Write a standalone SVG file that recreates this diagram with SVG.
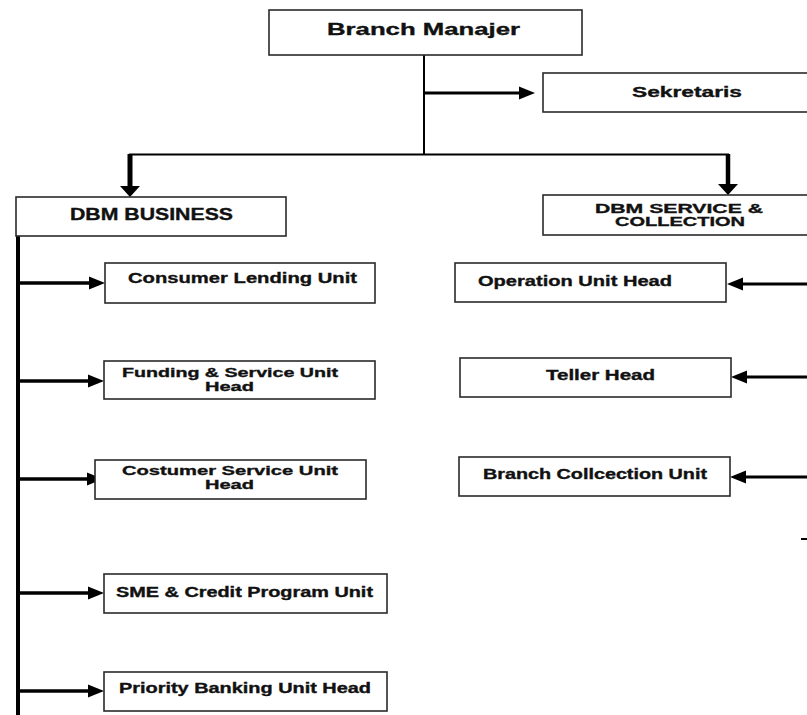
<svg xmlns="http://www.w3.org/2000/svg" width="807" height="715" viewBox="0 0 807 715">
<style>
.box{fill:#fff;stroke:#2a2a2a;stroke-width:1.6}
.t{font-family:"Liberation Sans",Arial,sans-serif;font-weight:bold;fill:#111;stroke:#111;stroke-width:0.35}
.c{stroke:#000;fill:none}
</style>
<defs>
<marker id="ah" markerUnits="userSpaceOnUse" markerWidth="16" markerHeight="13" refX="6" refY="6.5" orient="auto" overflow="visible"><path d="M0,0 L16,6.5 L0,13 z" fill="#000"/></marker>
<marker id="ad" markerUnits="userSpaceOnUse" markerWidth="11" markerHeight="20" refX="4" refY="10" orient="auto" overflow="visible"><path d="M0,0 L11,10 L0,20 z" fill="#000"/></marker>
</defs>
<rect width="807" height="715" fill="#fff"/>
<g id="connectors">
<line class="c" x1="424" y1="55" x2="424" y2="155" stroke-width="2"/>
<line class="c" x1="129" y1="154.5" x2="729" y2="154.5" stroke-width="2"/>
<line class="c" x1="424" y1="93" x2="525" y2="93" stroke-width="3" marker-end="url(#ah)"/>
<line class="c" x1="130" y1="154" x2="130" y2="190" stroke-width="5" marker-end="url(#ad)"/>
<line class="c" x1="728" y1="154" x2="728" y2="188" stroke-width="4.5" marker-end="url(#ad)"/>
<line class="c" x1="18" y1="236" x2="18" y2="715" stroke-width="4"/>
<line class="c" x1="18" y1="283" x2="95" y2="283" stroke-width="3.5" marker-end="url(#ah)"/>
<line class="c" x1="18" y1="381" x2="94" y2="381" stroke-width="3.5" marker-end="url(#ah)"/>
<line class="c" x1="18" y1="479" x2="93" y2="479" stroke-width="3.5" marker-end="url(#ah)"/>
<line class="c" x1="18" y1="593" x2="94" y2="593" stroke-width="3.5" marker-end="url(#ah)"/>
<line class="c" x1="18" y1="691" x2="94" y2="691" stroke-width="3.5" marker-end="url(#ah)"/>
<line class="c" x1="807" y1="284" x2="737" y2="284" stroke-width="3" marker-end="url(#ah)"/>
<line class="c" x1="807" y1="377" x2="741" y2="377" stroke-width="3" marker-end="url(#ah)"/>
<line class="c" x1="807" y1="477" x2="740" y2="477" stroke-width="3" marker-end="url(#ah)"/>
<line class="c" x1="801" y1="539" x2="807" y2="539" stroke-width="2"/>
</g>
<g id="branch-manajer"><rect class="box" x="269" y="10" width="313" height="45"/><text class="t" x="327" y="35" font-size="17" textLength="193" lengthAdjust="spacingAndGlyphs">Branch Manajer</text></g>
<g id="sekretaris"><rect class="box" x="543" y="73" width="270" height="39"/><text class="t" x="632" y="97" font-size="15" textLength="110" lengthAdjust="spacingAndGlyphs">Sekretaris</text></g>
<g id="dbm-business"><rect class="box" x="16" y="197" width="270" height="39"/><text class="t" x="70" y="220" font-size="16" textLength="163" lengthAdjust="spacingAndGlyphs">DBM BUSINESS</text></g>
<g id="dbm-service"><rect class="box" x="543" y="195" width="270" height="40"/><text class="t" x="595" y="212.5" font-size="13" textLength="168" lengthAdjust="spacingAndGlyphs">DBM SERVICE &amp;</text><text class="t" x="615" y="226" font-size="13" textLength="130" lengthAdjust="spacingAndGlyphs">COLLECTION</text></g>
<g id="consumer-lending"><rect class="box" x="105" y="263" width="270" height="40"/><text class="t" x="128" y="283" font-size="15" textLength="229" lengthAdjust="spacingAndGlyphs">Consumer Lending Unit</text></g>
<g id="funding-service"><rect class="box" x="104" y="361" width="271" height="38"/><text class="t" x="122" y="377" font-size="13" textLength="216" lengthAdjust="spacingAndGlyphs">Funding &amp; Service Unit</text><text class="t" x="205" y="391" font-size="13" textLength="49" lengthAdjust="spacingAndGlyphs">Head</text></g>
<g id="costumer-service"><rect class="box" x="95" y="460" width="271" height="39"/><text class="t" x="122" y="475" font-size="13" textLength="216" lengthAdjust="spacingAndGlyphs">Costumer Service Unit</text><text class="t" x="205" y="489" font-size="13" textLength="49" lengthAdjust="spacingAndGlyphs">Head</text></g>
<g id="sme-credit"><rect class="box" x="104" y="574" width="283" height="39"/><text class="t" x="116" y="597" font-size="14" textLength="257" lengthAdjust="spacingAndGlyphs">SME &amp; Credit Program Unit</text></g>
<g id="priority-banking"><rect class="box" x="104" y="672" width="283" height="39"/><text class="t" x="119" y="693" font-size="14" textLength="252" lengthAdjust="spacingAndGlyphs">Priority Banking Unit Head</text></g>
<g id="operation-unit"><rect class="box" x="455" y="263" width="271" height="39"/><text class="t" x="478" y="286" font-size="14.5" textLength="194" lengthAdjust="spacingAndGlyphs">Operation Unit Head</text></g>
<g id="teller-head"><rect class="box" x="460" y="358" width="271" height="39"/><text class="t" x="546" y="380" font-size="14" textLength="109" lengthAdjust="spacingAndGlyphs">Teller Head</text></g>
<g id="branch-collection"><rect class="box" x="459" y="457" width="271" height="39"/><text class="t" x="483" y="479" font-size="14" textLength="224" lengthAdjust="spacingAndGlyphs">Branch Collcection Unit</text></g>
</svg>
